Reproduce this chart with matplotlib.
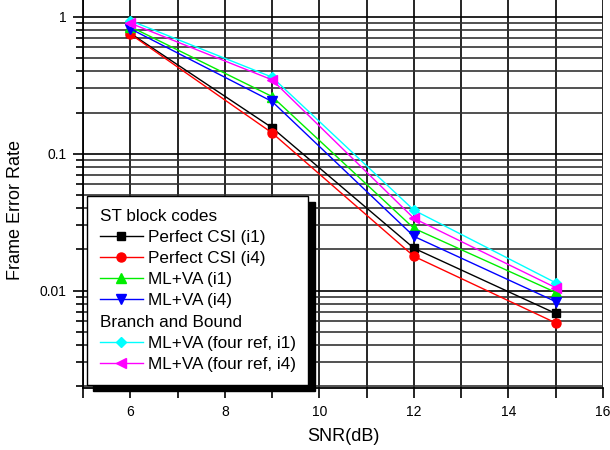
import numpy as np
import matplotlib
matplotlib.use('Agg')
import matplotlib.pyplot as plt
from matplotlib.lines import Line2D
from matplotlib.ticker import MultipleLocator, LogLocator, NullFormatter, FixedFormatter, FixedLocator

plt.rcParams['font.family'] = ['Liberation Sans', 'DejaVu Sans']

snr = [6, 9, 12, 15]
fer_csi_i1 = [0.76, 0.155, 0.0204, 0.0068]
fer_csi_i4 = [0.75, 0.142, 0.0178, 0.0058]
fer_ml_i1 = [0.85, 0.262, 0.0285, 0.0097]
fer_ml_i4 = [0.82, 0.241, 0.0249, 0.0083]
fer_bb_i1 = [0.94, 0.363, 0.0387, 0.0114]
fer_bb_i4 = [0.90, 0.347, 0.0337, 0.0105]

series = [
    ('Perfect CSI (i1)', fer_csi_i1, 'black', 's'),
    ('Perfect CSI (i4)', fer_csi_i4, 'red', 'o'),
    ('ML+VA (i1)', fer_ml_i1, '#00ee00', '^'),
    ('ML+VA (i4)', fer_ml_i4, 'blue', 'v'),
    ('ML+VA (four ref, i1)', fer_bb_i1, 'cyan', 'D'),
    ('ML+VA (four ref, i4)', fer_bb_i4, 'magenta', '<'),
]

fig = plt.figure(figsize=(6.1, 4.5), dpi=100)
ax = fig.add_axes([83/610, 62/450, 520/610, 388/450])

handles = {}
for lab, vals, col, mk in series:
    ms = 5.5 if mk in ('s', 'D') else 6.5
    h, = ax.plot(snr, vals, color=col, marker=mk, ms=ms, lw=1, zorder=3)
    handles[lab] = h

ax.set_yscale('log')
ax.set_xlim(5, 16)
ax.set_ylim(0.00194, 1.33)

ax.xaxis.set_major_locator(MultipleLocator(2))
ax.xaxis.set_minor_locator(MultipleLocator(1))
ax.yaxis.set_major_locator(FixedLocator([0.01, 0.1, 1]))
ax.yaxis.set_major_formatter(FixedFormatter(['0.01', '0.1', '1']))
ax.yaxis.set_minor_locator(LogLocator(base=10, subs=np.arange(2, 10)))
ax.yaxis.set_minor_formatter(NullFormatter())

ax.grid(True, which='major', color='black', lw=1.2, zorder=1)
ax.grid(True, which='minor', axis='x', color='black', lw=1.2, zorder=1)
ax.grid(True, which='minor', axis='y', color='#333333', lw=1.2, zorder=1)

for s in ['top', 'right']:
    ax.spines[s].set_visible(False)
for s in ['left', 'bottom']:
    ax.spines[s].set_linewidth(1.3)

ax.tick_params(which='major', direction='out', length=7, width=1.2, labelsize=10, pad=5)
ax.tick_params(which='minor', direction='out', length=5, width=1.2)
ax.tick_params(axis='x', which='minor', length=7)

ax.set_xlabel('SNR(dB)', fontsize=13, labelpad=7)
ax.set_ylabel('Frame Error Rate', fontsize=13)
ax.yaxis.set_label_coords(-0.113, 0.46)

blank = Line2D([], [], lw=0, marker='')
labels = ['ST block codes', 'Perfect CSI (i1)', 'Perfect CSI (i4)', 'ML+VA (i1)', 'ML+VA (i4)',
          'Branch and Bound', 'ML+VA (four ref, i1)', 'ML+VA (four ref, i4)']
hl = [blank if l not in handles else handles[l] for l in labels]
leg = ax.legend(hl, labels, loc='upper left', bbox_to_anchor=(0.0077, 0.495),
                fontsize=12.3, frameon=True, fancybox=False, edgecolor='black',
                framealpha=1, handlelength=2.5, handletextpad=0.3,
                labelspacing=0.36, borderpad=0.75, borderaxespad=0,
                shadow={'ox': 4.5, 'oy': -4.5, 'facecolor': 'black',
                        'edgecolor': 'black', 'alpha': 1})
leg.get_frame().set_linewidth(1.0)
leg.set_zorder(5)

# section titles start where the handle samples start
col = leg._legend_handle_box.get_children()[0]
for row, l in zip(col.get_children(), labels):
    if l in ('ST block codes', 'Branch and Bound'):
        row._children = [row.get_children()[1]]

fig.savefig('out.png', dpi=100)
